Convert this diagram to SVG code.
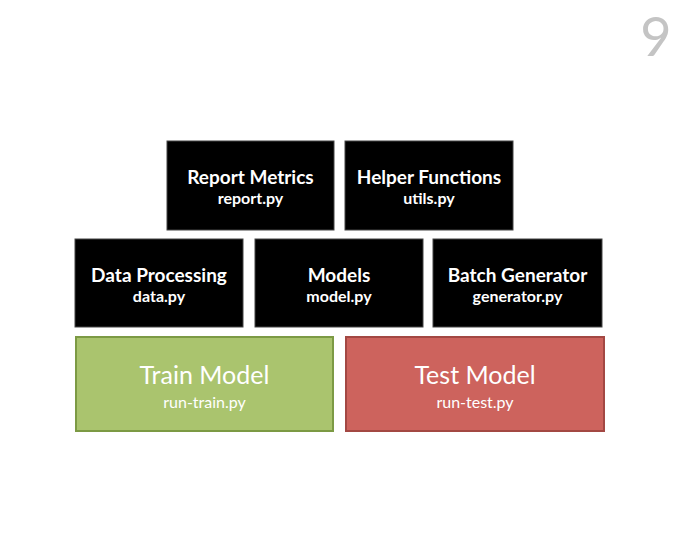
<svg xmlns="http://www.w3.org/2000/svg" width="680" height="557" viewBox="0 0 680 557">
<style>
.blk{fill:#000;stroke:#444;stroke-width:1}
.t{font-family:Lato,"Open Sans",sans-serif;font-weight:bold;fill:#fff;text-anchor:middle}
.h{font-size:19px}
.s{font-size:16px}
.big{font-family:Lato,"Open Sans",sans-serif;fill:#fff;text-anchor:middle;font-size:25px}
.sm{font-family:Lato,"Open Sans",sans-serif;fill:#fff;text-anchor:middle;font-size:16px}
</style>
<rect width="680" height="557" fill="#fff"/>
<text x="656" y="56" font-family="Lato,'Open Sans',sans-serif" font-size="54" fill="#c4c4c4" text-anchor="middle">9</text>
<g id="report"><rect class="blk" x="167" y="141" width="167" height="89"/><text class="t h" x="250.5" y="184">Report Metrics</text><text class="t s" x="250.5" y="204">report.py</text></g>
<g id="helper"><rect class="blk" x="345" y="141" width="168" height="89"/><text class="t h" x="429" y="184">Helper Functions</text><text class="t s" x="429" y="204">utils.py</text></g>
<g id="data"><rect class="blk" x="75" y="239" width="168" height="88"/><text class="t h" x="159" y="282">Data Processing</text><text class="t s" x="159" y="302">data.py</text></g>
<g id="models"><rect class="blk" x="255" y="239" width="168" height="88"/><text class="t h" x="339" y="282">Models</text><text class="t s" x="339" y="302">model.py</text></g>
<g id="batch"><rect class="blk" x="433" y="239" width="169" height="88"/><text class="t h" x="517.5" y="282">Batch Generator</text><text class="t s" x="517.5" y="302">generator.py</text></g>
<g id="train"><rect x="76" y="337" width="257" height="94" fill="#aac46e" stroke="#7c9a44" stroke-width="2"/><text class="big" x="204.5" y="384">Train Model</text><text class="sm" x="204.5" y="408">run-train.py</text></g>
<g id="test"><rect x="346" y="337" width="258" height="94" fill="#cd635d" stroke="#a34843" stroke-width="2"/><text class="big" x="475" y="384">Test Model</text><text class="sm" x="475" y="408">run-test.py</text></g>
<g id="connectors"></g>
</svg>
